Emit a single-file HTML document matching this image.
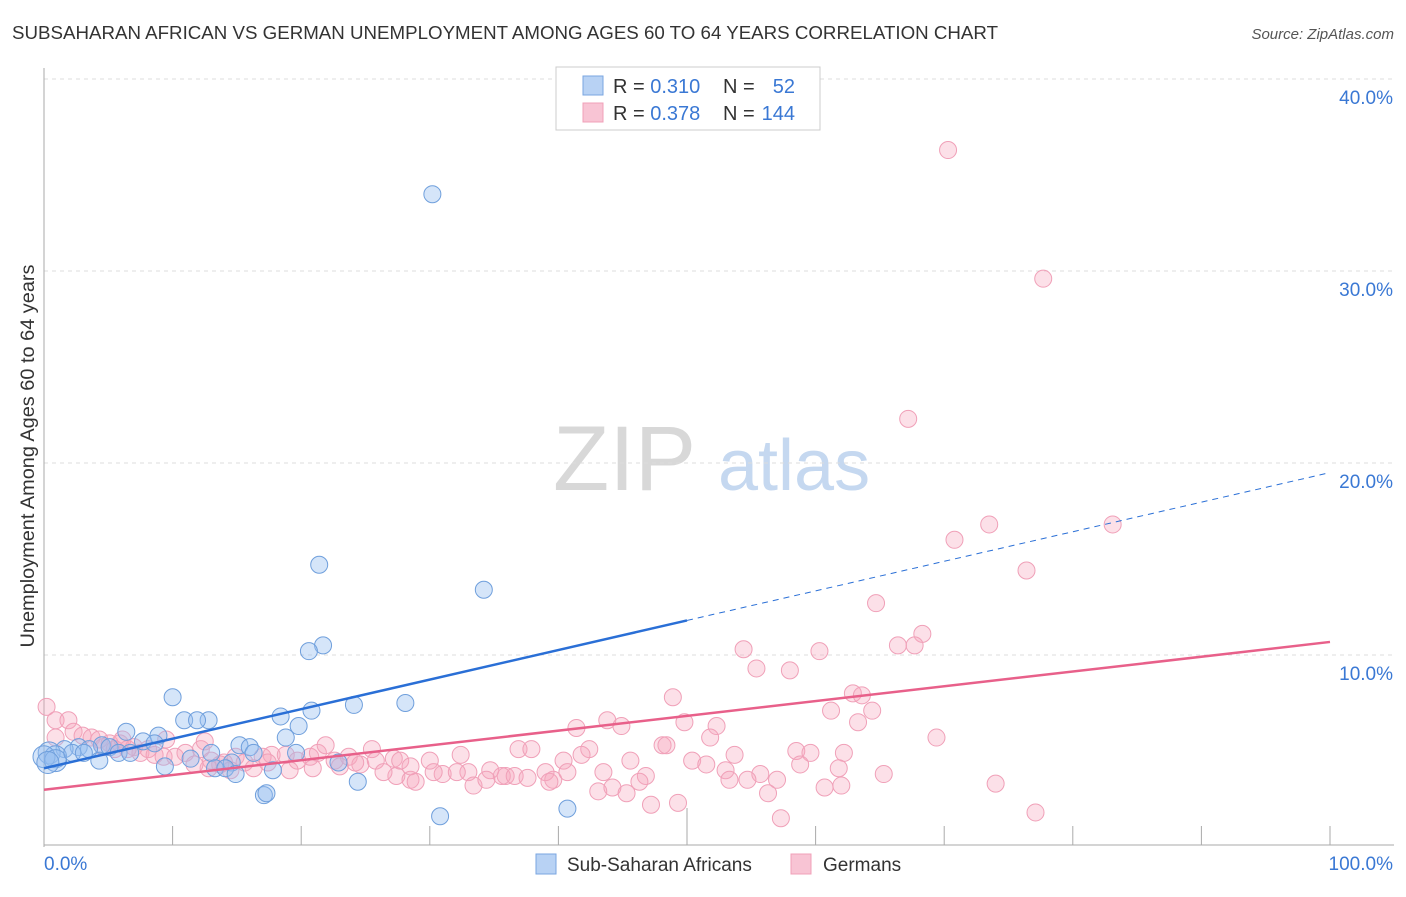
<!DOCTYPE html>
<html><head><meta charset="utf-8"><style>
body{margin:0;background:#fff;font-family:"Liberation Sans",sans-serif;}
svg text{font-family:"Liberation Sans",sans-serif;}
</style></head><body>
<svg id="chart" width="1406" height="892" xmlns="http://www.w3.org/2000/svg">
<text x="12" y="39" font-size="18.5" fill="#333" textLength="986" lengthAdjust="spacingAndGlyphs">SUBSAHARAN AFRICAN VS GERMAN UNEMPLOYMENT AMONG AGES 60 TO 64 YEARS CORRELATION CHART</text>
<text x="1394" y="39" font-size="15" fill="#555" font-style="italic" text-anchor="end">Source: ZipAtlas.com</text>
<g>
<text x="553" y="490" font-size="92" fill="#d8d8d8" font-family="Liberation Serif, serif">ZIP</text>
<text x="718" y="490" font-size="72" fill="#c5d8f0">atlas</text>
</g>
<g id="grid"></g>
<g id="axes"></g>
<g id="pts"></g>
<g id="lines"></g>
<g>
<rect x="556" y="67" width="264" height="63" fill="#fff" stroke="#ccc"/>
<rect x="583" y="76" width="20" height="19" fill="#b8d2f4" stroke="#7aa6e0"/>
<rect x="583" y="103" width="20" height="19" fill="#f8c4d4" stroke="#f0a0b8"/>
<text x="613" y="93" font-size="20" fill="#333">R = <tspan fill="#3a78d4">0.310</tspan></text>
<text x="723" y="93" font-size="20" fill="#333">N = </text><text x="795" y="93" font-size="20" fill="#3a78d4" text-anchor="end">52</text>
<text x="613" y="120" font-size="20" fill="#333">R = <tspan fill="#3a78d4">0.378</tspan></text>
<text x="723" y="120" font-size="20" fill="#333">N = </text><text x="795" y="120" font-size="20" fill="#3a78d4" text-anchor="end">144</text>
</g>
<g>
<rect x="536" y="854" width="20" height="20" fill="#b8d2f4" stroke="#7aa6e0"/>
<text x="567" y="871" font-size="19" fill="#333">Sub-Saharan Africans</text>
<rect x="791" y="854" width="20" height="20" fill="#f8c4d4" stroke="#f0a0b8"/>
<text x="823" y="871" font-size="19" fill="#333">Germans</text>
</g>
</svg>
<script>
const yTicks=[10,20,30,40];
const yTickLabels=["10.0%","20.0%","30.0%","40.0%"];
const xTicks=[0,10,20,30,40,50,60,70,80,90,100];
const xEndLabels=["0.0%","100.0%"];
const blueX=[30.2,21.4,34.2,21.7,20.6,10.0,24.1,28.1,20.8,18.4,10.9,12.8,11.9,6.4,8.9,19.8,18.8,7.7,15.2,16.0,4.5,2.7,3.5,1.6,5.1,8.6,0.4,0.9,0.0,0.9,4.3,5.8,11.4,13.0,14.6,16.3,19.6,9.4,13.3,14.1,14.9,17.8,22.9,24.4,17.1,17.3,30.8,40.7,6.7,2.2,3.1,0.3];
const blueY=[34.0,14.7,13.4,10.5,10.2,7.8,7.4,7.5,7.1,6.8,6.6,6.6,6.6,6.0,5.8,6.3,5.7,5.5,5.3,5.2,5.3,5.2,5.1,5.1,5.2,5.4,4.9,4.7,4.7,4.5,4.5,4.9,4.6,4.9,4.4,4.9,4.9,4.2,4.1,4.1,3.8,4.0,4.4,3.4,2.7,2.8,1.6,2.0,4.9,4.9,4.9,4.4];
const pinkX=[70.3,77.7,67.2,73.5,83.1,70.8,76.4,64.7,68.3,66.4,67.7,54.4,60.3,55.4,58.0,48.9,62.9,63.6,61.2,64.4,63.3,49.8,52.3,43.8,44.9,41.4,51.8,69.4,48.1,48.4,42.4,36.9,37.9,58.5,59.6,62.2,53.7,41.8,50.4,32.4,30.0,45.6,40.4,51.5,58.8,61.8,65.3,53.0,55.7,57.0,53.3,54.7,43.5,46.8,46.3,35.9,34.7,33.0,31.0,35.6,36.6,39.6,40.7,39.0,39.3,37.6,44.2,45.3,43.1,47.2,49.3,60.7,62.0,56.3,57.3,74.0,77.1,33.4,34.4,32.1,27.4,28.5,28.9,30.3,0.2,0.9,1.9,0.9,2.3,3.0,3.7,4.3,5.1,5.9,7.0,7.5,8.1,8.6,9.3,10.2,11.0,12.2,13.0,14.0,14.9,15.6,17.0,17.7,18.8,19.7,20.7,21.3,21.9,22.6,23.7,24.6,25.5,25.8,26.4,27.2,27.7,28.5,6.1,6.5,9.5,12.5,13.7,16.3,19.1,20.9,23.0,24.2,14.5,12.8,17.4,4.6,5.5,11.7];
const pinkY=[36.3,29.6,22.3,16.8,16.8,16.0,14.4,12.7,11.1,10.5,10.5,10.3,10.2,9.3,9.2,7.8,8.0,7.9,7.1,7.1,6.5,6.5,6.3,6.6,6.3,6.2,5.7,5.7,5.3,5.3,5.1,5.1,5.1,5.0,4.9,4.9,4.8,4.8,4.5,4.8,4.5,4.5,4.5,4.3,4.3,4.1,3.8,4.0,3.8,3.5,3.5,3.5,3.9,3.7,3.4,3.7,4.0,3.9,3.8,3.7,3.7,3.5,3.9,3.9,3.4,3.6,3.1,2.8,2.9,2.2,2.3,3.1,3.2,2.8,1.5,3.3,1.8,3.2,3.5,3.9,3.7,3.5,3.4,3.9,7.3,6.6,6.6,5.7,6.0,5.8,5.7,5.6,5.4,5.4,5.2,4.9,5.1,4.8,4.7,4.7,4.9,5.1,4.5,4.4,4.7,4.4,4.7,4.8,4.8,4.5,4.7,4.9,5.3,4.5,4.7,4.3,5.1,4.5,3.9,4.6,4.5,4.2,5.6,5.1,5.6,5.5,4.3,4.1,4.0,4.1,4.2,4.4,4.0,4.1,4.4,5.2,5.1,4.3];
const blueTrend=[4.1,0.154];
const pinkTrend=[2.98,0.077];
const NS="http://www.w3.org/2000/svg";
const X0=44,X1=1330,Y0=847,PPY=19.2;
const sx=v=>X0+(X1-X0)*v/100, sy=v=>Y0-v*PPY;
function mk(tag,attrs,parent){const e=document.createElementNS(NS,tag);for(const k in attrs)e.setAttribute(k,attrs[k]);parent.appendChild(e);return e;}
const grid=document.getElementById('grid'),axes=document.getElementById('axes'),pts=document.getElementById('pts'),lines=document.getElementById('lines');
yTicks.forEach((t,i)=>{
 const g=mk('line',{x1:X0,x2:1393,y1:sy(t),y2:sy(t),stroke:'#ddd','stroke-dasharray':'4,4'},grid);
 
 
 const tx=mk('text',{x:1393,y:sy(t)+25,'font-size':19,fill:'#3a78d4','text-anchor':'end'},axes);
 tx.textContent=yTickLabels[i];
 
 
});
const ya=mk('line',{x1:X0,x2:X0,y1:68,y2:Y0,stroke:'#aaa'},axes);


const xa=mk('line',{x1:X0,x2:X1+64,y1:845,y2:845,stroke:'#aaa'},axes);


xTicks.forEach(t=>{
 const tk=mk('line',{x1:sx(t),x2:sx(t),y1:t===50?808:826,y2:845,stroke:'#aaa'},axes);
 
 
});
[[0,'start',44],[100,'end',1393]].forEach((a,i)=>{
 const tx=mk('text',{x:a[2],y:870,'font-size':19,fill:'#3a78d4','text-anchor':a[1]},axes);
 tx.textContent=xEndLabels[i];
 
 
});
const yt=mk('text',{transform:'translate(34,456) rotate(-90)','font-size':19,fill:'#333','text-anchor':'middle',textLength:383,lengthAdjust:'spacingAndGlyphs'},axes);
yt.textContent='Unemployment Among Ages 60 to 64 years';


pinkX.forEach((x,i)=>{
 const c=mk('circle',{cx:sx(x),cy:sy(pinkY[i]),r:8.5,fill:'rgba(245,165,190,0.35)',stroke:'#f0a0b8','stroke-width':1},pts);
 
 
});
blueX.forEach((x,i)=>{
 const c=mk('circle',{cx:sx(x),cy:sy(blueY[i]),r:x<1?11:8.5,fill:'rgba(150,190,240,0.4)',stroke:'#6f9fdc','stroke-width':1},pts);
 
 
});
const bl=mk('line',{x1:sx(0),y1:sy(blueTrend[0]),x2:sx(50),y2:sy(blueTrend[0]+blueTrend[1]*50),stroke:'#2a6fd6','stroke-width':2.5},lines);


const bd=mk('line',{x1:sx(50),y1:sy(blueTrend[0]+blueTrend[1]*50),x2:sx(100),y2:sy(blueTrend[0]+blueTrend[1]*100),stroke:'#2a6fd6','stroke-width':1,'stroke-dasharray':'6,5'},lines);


const pl=mk('line',{x1:sx(0),y1:sy(pinkTrend[0]),x2:sx(100),y2:sy(pinkTrend[0]+pinkTrend[1]*100),stroke:'#e8608a','stroke-width':2.5},lines);


</script>
</body></html>
